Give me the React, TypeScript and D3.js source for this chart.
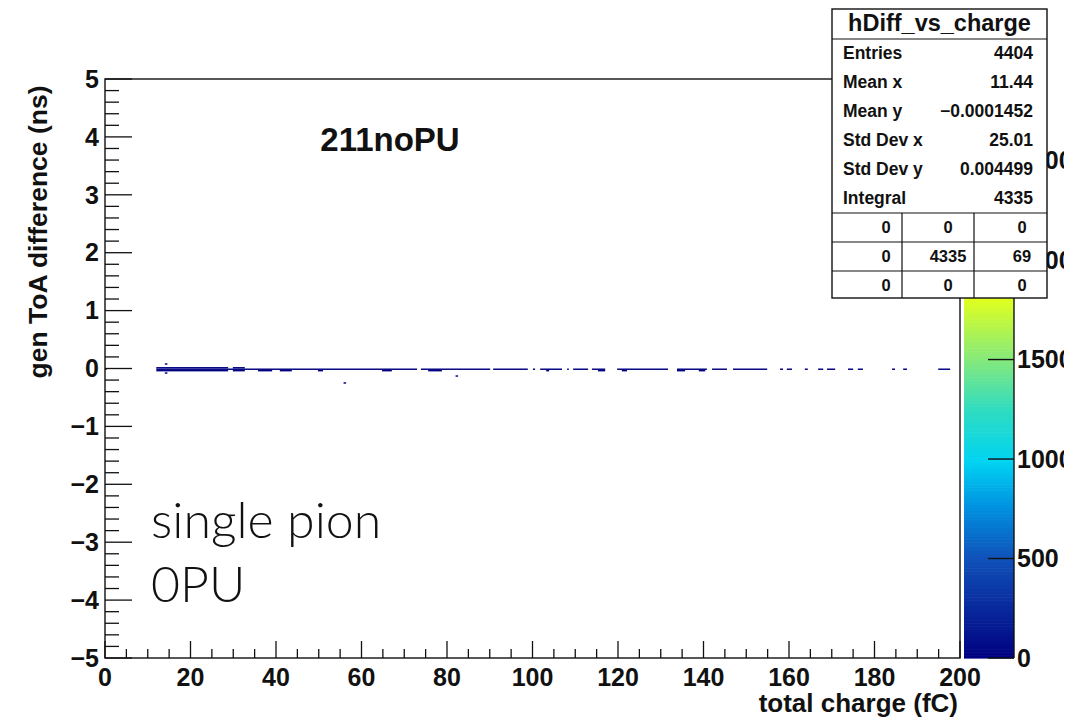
import React from "react";
import * as d3 from "d3";

// ---------- data ----------
const X_DOMAIN: [number, number] = [0, 200];
const Y_DOMAIN: [number, number] = [-5, 5];
const Z_MAX = 2910;
const X_MAJOR_TICKS = [0, 20, 40, 60, 80, 100, 120, 140, 160, 180, 200];
const Y_MAJOR_TICKS = [-5, -4, -3, -2, -1, 0, 1, 2, 3, 4, 5];
const Z_TICKS = [0, 500, 1000, 1500, 2000, 2500];

// main band y-bin (ns)
const BAND_Y: [number, number] = [-0.025, 0];
// main band runs: [xStart, xEnd, count]
const BAND_RUNS: [number, number, number][] = [
  [12, 73, 6], [73.9, 90.1, 4], [90.8, 98.9, 3], [100.1, 100.6, 2],
  [101.8, 106.9, 3], [108.1, 108.5, 2], [109.5, 113, 3], [113.9, 117, 3],
  [119.8, 131.7, 3], [133.8, 140.8, 3], [142, 145.5, 2], [146.9, 154.9, 2],
  [157.9, 158.6, 1], [159.5, 160.7, 1], [163.7, 164.4, 1], [166.8, 168, 1],
  [168.9, 170.8, 1], [173.8, 175, 1], [176.1, 177.3, 1], [184.1, 184.8, 1],
  [186.7, 187.6, 1], [194.9, 197.7, 1],
];
// neighbouring y-bins that are filled: [xStart, xEnd, yLow, yHigh, count]
const SIDE_BINS: [number, number, number, number, number][] = [
  [12, 28.8, 0, 0.025, 12], [12, 28.8, -0.05, -0.025, 10],
  [29.9, 32.7, 0, 0.025, 3], [29.9, 32.7, -0.05, -0.025, 2],
  [35.8, 39.1, -0.05, -0.025, 2], [40.9, 43.7, -0.05, -0.025, 2],
  [49.8, 51.0, -0.05, -0.025, 1], [64.8, 67.1, -0.05, -0.025, 1],
  [75.6, 78.8, -0.05, -0.025, 1], [103.2, 103.9, -0.05, -0.025, 1],
  [115.3, 117, -0.05, -0.025, 1], [120.9, 122.1, -0.05, -0.025, 1],
  [133.8, 135.7, -0.05, -0.025, 1], [138.9, 140.4, -0.05, -0.025, 1],
];
// isolated entries: [x, y, count]
const OUTLIERS: [number, number, number][] = [
  [14.3, 0.078, 1], [14.3, -0.078, 1], [56.1, -0.25, 1], [82.3, -0.13, 1],
];
// highly populated bin at zero charge: [xStart, xEnd, yLow, yHigh, count]
const PEAK_BIN: [number, number, number, number, number] = [0, 0.4, -0.025, 0, 2773];

// palette
const PALETTE_STOPS = [0, 0.17, 0.26, 0.34, 0.43, 0.51, 0.62, 0.75, 0.88, 1];
const PALETTE_COLORS = [
  "#000080", "#1050b8", "#0090e0", "#00d4f2", "#30dcc0",
  "#80e880", "#e0ff20", "#ffc000", "#ff2000", "#800000",
];

// stats box
const STATS_TITLE = "hDiff_vs_charge";
const STATS_LABELS = ["Entries", "Mean x", "Mean y", "Std Dev x", "Std Dev y", "Integral"];
const STATS_VALUES = ["4404", "11.44", "\u22120.0001452", "25.01", "0.004499", "4335"];
const STATS_TABLE = [
  ["0", "0", "0"],
  ["0", "4335", "69"],
  ["0", "0", "0"],
];

const TITLE = "211noPU";
const X_LABEL = "total charge (fC)";
const Y_LABEL = "gen ToA difference (ns)";
const NOTE_LINES = ["single pion", "0PU"];

// ---------- layout ----------
const W = 1091;
const H = 722;
const L = 105, R = 960, T = 79, B = 658;
const CB_L = 964, CB_R = 1014;
const FONT = "'Liberation Sans', Arial, Helvetica, sans-serif";
const BOX = { x0: 832, x1: 1047, y0: 9, titleY: 39, tableY: 213, y1: 298 };

const fmtMinus = (v: number) => (v < 0 ? "\u2212" + Math.abs(v) : String(v));

export default function App() {
  const x = d3.scaleLinear().domain(X_DOMAIN).range([L, R]);
  const y = d3.scaleLinear().domain(Y_DOMAIN).range([B, T]);
  const z = d3.scaleLinear().domain([0, Z_MAX]).range([B, T]);
  const colorScale = d3
    .scaleLinear<string>()
    .domain(PALETTE_STOPS.map((s) => s * Z_MAX))
    .range(PALETTE_COLORS)
    .interpolate(d3.interpolateRgb)
    .clamp(true);

  const cells: { x0: number; x1: number; y0: number; y1: number; c: number }[] = [];
  BAND_RUNS.forEach(([a, b, c]) => cells.push({ x0: a, x1: b, y0: BAND_Y[0], y1: BAND_Y[1], c }));
  SIDE_BINS.forEach(([a, b, lo, hi, c]) => cells.push({ x0: a, x1: b, y0: lo, y1: hi, c }));
  OUTLIERS.forEach(([px, py, c]) =>
    cells.push({ x0: px - 0.3, x1: px + 0.3, y0: py - 0.0125, y1: py + 0.0125, c })
  );
  cells.push({ x0: PEAK_BIN[0], x1: PEAK_BIN[1], y0: PEAK_BIN[2], y1: PEAK_BIN[3], c: PEAK_BIN[4] });

  const xMinor = d3.range(X_DOMAIN[0], X_DOMAIN[1] + 0.001, 5).filter((v) => v % 20 !== 0);
  const yMinor = d3.range(-5, 5.001, 0.2).filter((v) => Math.abs(v - Math.round(v)) > 1e-6);

  const nLevels = 200;
  const levels = d3.range(nLevels).map((i) => [(i / nLevels) * Z_MAX, ((i + 1) / nLevels) * Z_MAX]);

  const rowBase = [59, 88, 117, 146, 175, 204];
  const tableRows = [BOX.tableY, 242, 271, BOX.y1];
  const colEdges = [BOX.x0, 902, 974, BOX.x1];
  const colText = [886, 948, 1022];
  const tableBase = [233, 262, 291];

  return (
    <svg
      width={W}
      height={H}
      style={{ position: "fixed", left: 0, top: 0, background: "#fff" }}
      fontFamily={FONT}
    >
      <defs>
        <clipPath id="pageclip">
          <rect x={0} y={0} width={1064} height={H} />
        </clipPath>
      </defs>
      <rect x={0} y={0} width={W} height={H} fill="#fff" />

      {/* histogram cells */}
      <g>
        {cells.map((d, i) => (
          <rect
            key={i}
            x={x(d.x0)}
            y={y(d.y1)}
            width={Math.max(1, x(d.x1) - x(d.x0))}
            height={Math.max(1, y(d.y0) - y(d.y1))}
            fill={colorScale(d.c)}
          />
        ))}
      </g>

      {/* frame */}
      <rect x={L} y={T} width={R - L} height={B - T} fill="none" stroke="#111" strokeWidth={1.4} />

      {/* axis ticks */}
      <g stroke="#111" strokeWidth={1.3}>
        {X_MAJOR_TICKS.map((v) => (
          <line key={"xM" + v} x1={x(v)} x2={x(v)} y1={B} y2={B - 17} />
        ))}
        {xMinor.map((v) => (
          <line key={"xm" + v} x1={x(v)} x2={x(v)} y1={B} y2={B - 9} />
        ))}
        {Y_MAJOR_TICKS.map((v) => (
          <line key={"yM" + v} x1={L} x2={L + 27} y1={y(v)} y2={y(v)} />
        ))}
        {yMinor.map((v, i) => (
          <line key={"ym" + i} x1={L} x2={L + 14} y1={y(v)} y2={y(v)} />
        ))}
      </g>

      {/* tick labels */}
      <g fontSize={25} fontWeight="bold" fill="#111">
        {X_MAJOR_TICKS.map((v) => (
          <text key={"xl" + v} x={x(v)} y={686} textAnchor="middle">
            {v}
          </text>
        ))}
        {Y_MAJOR_TICKS.map((v) => (
          <text key={"yl" + v} x={99} y={y(v)} dy="0.35em" textAnchor="end">
            {fmtMinus(v)}
          </text>
        ))}
      </g>

      {/* axis titles */}
      <text x={958} y={712} textAnchor="end" fontSize={26} fontWeight="bold" fill="#111">
        {X_LABEL}
      </text>
      <text
        transform={`translate(47,${(T + 385) / 2}) rotate(-90)`}
        textAnchor="middle"
        fontSize={26.5}
        fontWeight="bold"
        fill="#111"
      >
        {Y_LABEL}
      </text>

      {/* title and notes */}
      <text x={390} y={151} textAnchor="middle" fontSize={33} fontWeight="bold" fill="#111">
        {TITLE}
      </text>
      {NOTE_LINES.map((s, i) => (
        <text
          key={s}
          x={151}
          y={538 + i * 64}
          fontSize={50}
          fontWeight={300}
          fontFamily="Lato, 'Open Sans', sans-serif"
          fill="#111"
        >
          {s}
        </text>
      ))}

      {/* colour bar */}
      <g>
        {levels.map(([a, b], i) => (
          <rect
            key={"cb" + i}
            x={CB_L}
            y={z(b)}
            width={CB_R - CB_L}
            height={z(a) - z(b) + 0.6}
            fill={colorScale((a + b) / 2)}
          />
        ))}
        <line x1={CB_R} x2={CB_R} y1={T} y2={B} stroke="#111" strokeWidth={1.4} />
        {Z_TICKS.map((v) => (
          <line key={"zt" + v} x1={CB_R - 26} x2={CB_R} y1={z(v)} y2={z(v)} stroke="#111" strokeWidth={1.4} />
        ))}
        <g clipPath="url(#pageclip)" fontSize={25} fontWeight="bold" fill="#111">
          {Z_TICKS.map((v) => (
            <text key={"zl" + v} x={1017} y={z(v)} dy="0.35em">
              {v}
            </text>
          ))}
        </g>
      </g>

      {/* stats box */}
      <g>
        <rect
          x={BOX.x0}
          y={BOX.y0}
          width={BOX.x1 - BOX.x0}
          height={BOX.y1 - BOX.y0}
          fill="#fff"
          stroke="#111"
          strokeWidth={1.4}
        />
        <line x1={BOX.x0} x2={BOX.x1} y1={BOX.titleY} y2={BOX.titleY} stroke="#111" strokeWidth={1.2} />
        <text x={(BOX.x0 + BOX.x1) / 2} y={31} textAnchor="middle" fontSize={23.5} fontWeight="bold" fill="#111">
          {STATS_TITLE}
        </text>
        <g fontSize={17.5} fontWeight="bold" fill="#111">
          {STATS_LABELS.map((s, i) => (
            <text key={s} x={843} y={rowBase[i]}>
              {s}
            </text>
          ))}
          {STATS_VALUES.map((s, i) => (
            <text key={"v" + i} x={1033} y={rowBase[i]} textAnchor="end">
              {s}
            </text>
          ))}
        </g>
        {tableRows.slice(0, 3).map((ty, i) => (
          <line key={"tr" + i} x1={BOX.x0} x2={BOX.x1} y1={ty} y2={ty} stroke="#111" strokeWidth={1.2} />
        ))}
        {colEdges.slice(1, 3).map((cx, i) => (
          <line key={"tc" + i} x1={cx} x2={cx} y1={BOX.tableY} y2={BOX.y1} stroke="#111" strokeWidth={1.2} />
        ))}
        <g fontSize={16.5} fontWeight="bold" fill="#111">
          {STATS_TABLE.map((row, r) =>
            row.map((s, c) => (
              <text key={r + "-" + c} x={colText[c]} y={tableBase[r]} textAnchor="middle">
                {s}
              </text>
            ))
          )}
        </g>
      </g>
    </svg>
  );
}
